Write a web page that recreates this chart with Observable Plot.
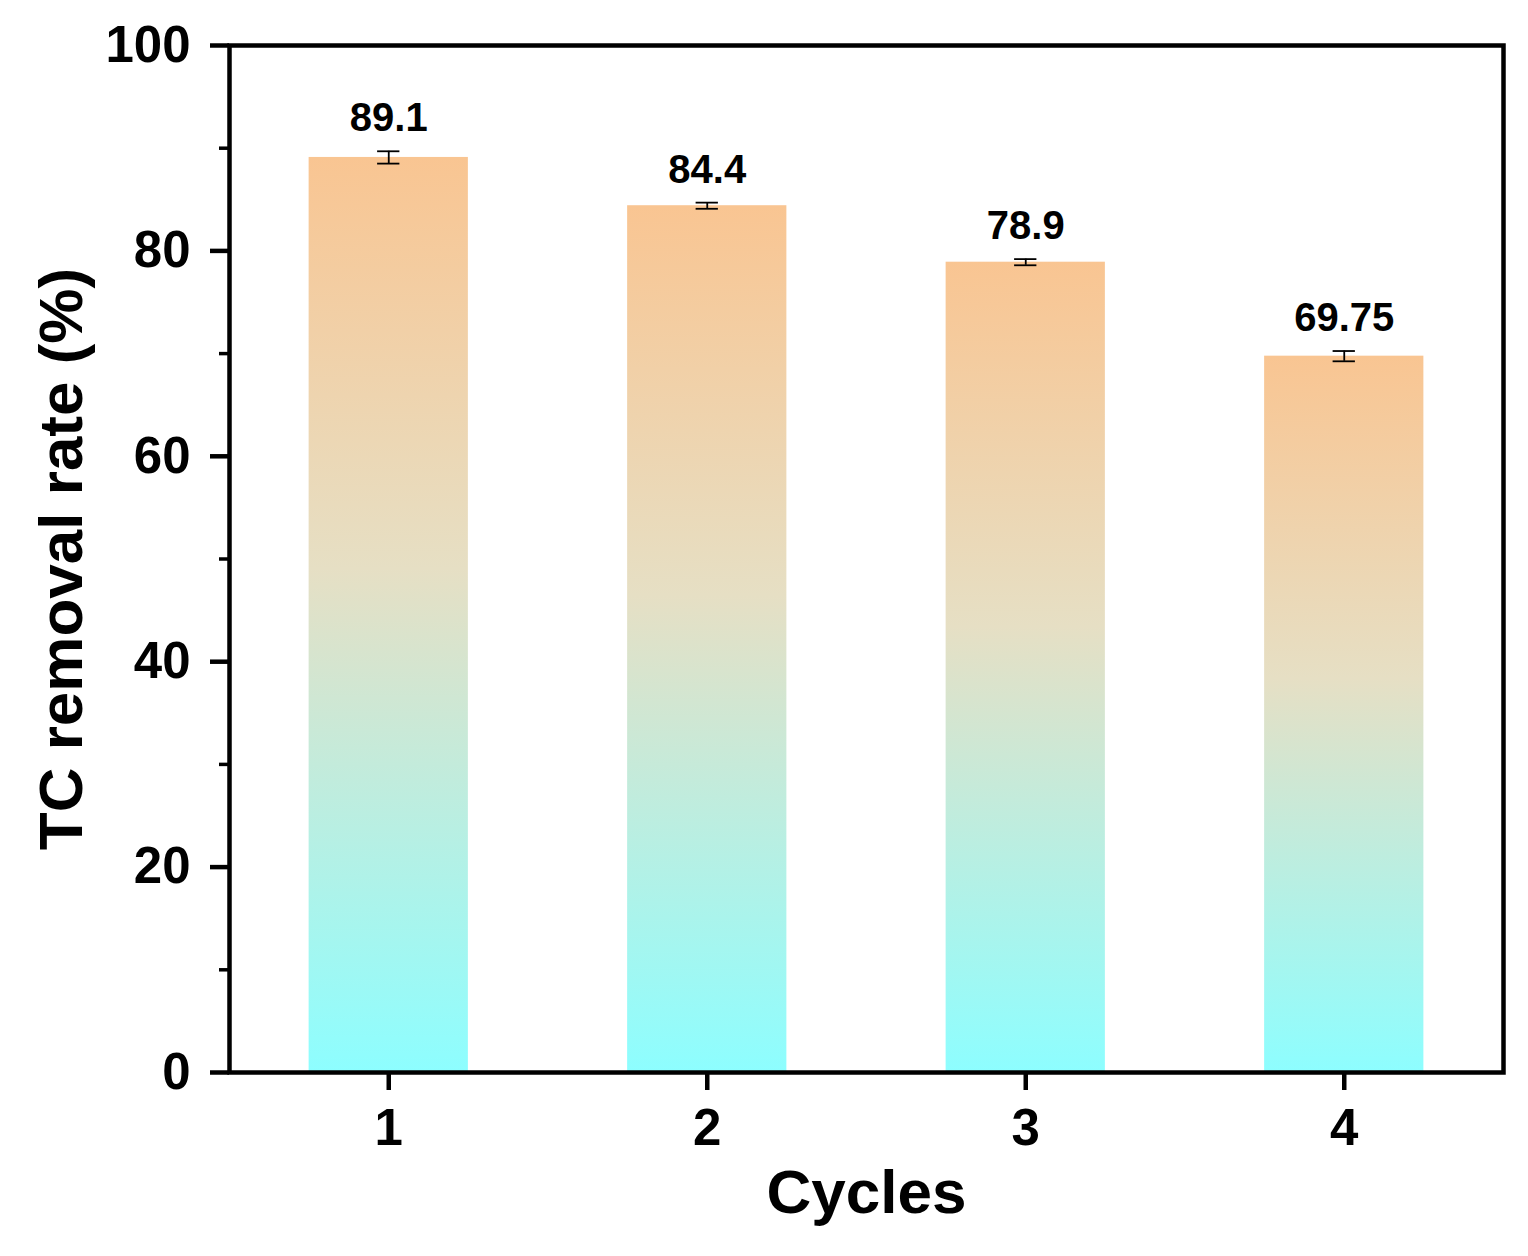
<!DOCTYPE html>
<html>
<head>
<meta charset="utf-8">
<script src="https://cdn.jsdelivr.net/npm/d3@7"></script>
<script src="https://cdn.jsdelivr.net/npm/@observablehq/plot@0.6"></script>
<style>
  body { margin: 0; background: #fff; }
  figure { margin: 0; }
</style>
</head>
<body>
<figure id="chart"></figure>
<script>
// values
let cycles = [1, 2, 3, 4];
let removal = [89.1, 84.4, 78.9, 69.75];
let errors = [0.6, 0.3, 0.3, 0.5];
let majorTicks = [0, 20, 40, 60, 80, 100];
let minorTicks = [10, 30, 50, 70, 90];

let data = cycles.map((c, i) => ({cycle: c, value: removal[i], err: errors[i]}));

let font = "'Liberation Sans', Arial, sans-serif";

let chart = Plot.plot({
  width: 1528,
  height: 1256,
  marginLeft: 229,
  marginRight: 25,
  marginTop: 45,
  marginBottom: 184,
  x: {domain: [0.5, 4.5]},
  y: {domain: [0, 100]},
  style: {fontFamily: font, color: "#000", background: "#fff"},
  marks: [
    Plot.rect(data, {
      x1: d => d.cycle - 0.25,
      x2: d => d.cycle + 0.25,
      y1: 0,
      y2: "value",
      fill: "url(#barGrad)"
    }),
    // error bars
    Plot.ruleX(data, {x: "cycle", y1: d => d.value - d.err, y2: d => d.value + d.err, stroke: "#000", strokeWidth: 1.8}),
    Plot.ruleY(data, {y: d => d.value + d.err, x1: d => d.cycle - 0.035, x2: d => d.cycle + 0.035, stroke: "#000", strokeWidth: 1.8}),
    Plot.ruleY(data, {y: d => d.value - d.err, x1: d => d.cycle - 0.035, x2: d => d.cycle + 0.035, stroke: "#000", strokeWidth: 1.8}),
    Plot.text(data, {
      x: "cycle",
      y: d => d.value + d.err,
      text: d => String(d.value),
      lineAnchor: "bottom",
      dy: -20,
      fontSize: 40,
      fontWeight: "bold",
      fill: "#000"
    }),
    Plot.frame({stroke: "#000", strokeWidth: 4.5}),
    Plot.axisY({
      ticks: majorTicks,
      tickSize: 19,
      tickPadding: 20,
      tickFormat: d => d,
      fontSize: 51,
      fontWeight: "bold",
      strokeWidth: 4.5,
      label: null
    }),
    Plot.axisY({
      ticks: minorTicks,
      tickSize: 10,
      tickFormat: () => "",
      strokeWidth: 3.5,
      label: null
    }),
    Plot.axisY({
      ticks: [],
      label: "TC removal rate (%)",
      labelAnchor: "center",
      labelArrow: "none",
      labelOffset: 192,
      fontSize: 62,
      fontWeight: "bold"
    }),
    Plot.axisX({
      ticks: cycles,
      tickSize: 18,
      tickPadding: 18,
      tickFormat: d => d,
      fontSize: 51,
      fontWeight: "bold",
      strokeWidth: 4.5,
      label: null
    }),
    Plot.axisX({
      ticks: [],
      label: "Cycles",
      labelAnchor: "center",
      labelArrow: "none",
      labelOffset: 140,
      fontSize: 62,
      fontWeight: "bold"
    })
  ]
});

// gradient for the bars (per bar, orange at top to cyan at bottom)
let defs = d3.select(chart).insert("defs", ":first-child");
let grad = defs.append("linearGradient")
  .attr("id", "barGrad")
  .attr("x1", 0).attr("y1", 0)
  .attr("x2", 0).attr("y2", 1);
grad.append("stop").attr("offset", "0%").attr("stop-color", "#f9c592");
grad.append("stop").attr("offset", "45%").attr("stop-color", "#e6dfc4");
grad.append("stop").attr("offset", "100%").attr("stop-color", "#8dfeff");

d3.select("#chart").append(() => chart);
</script>
</body>
</html>
